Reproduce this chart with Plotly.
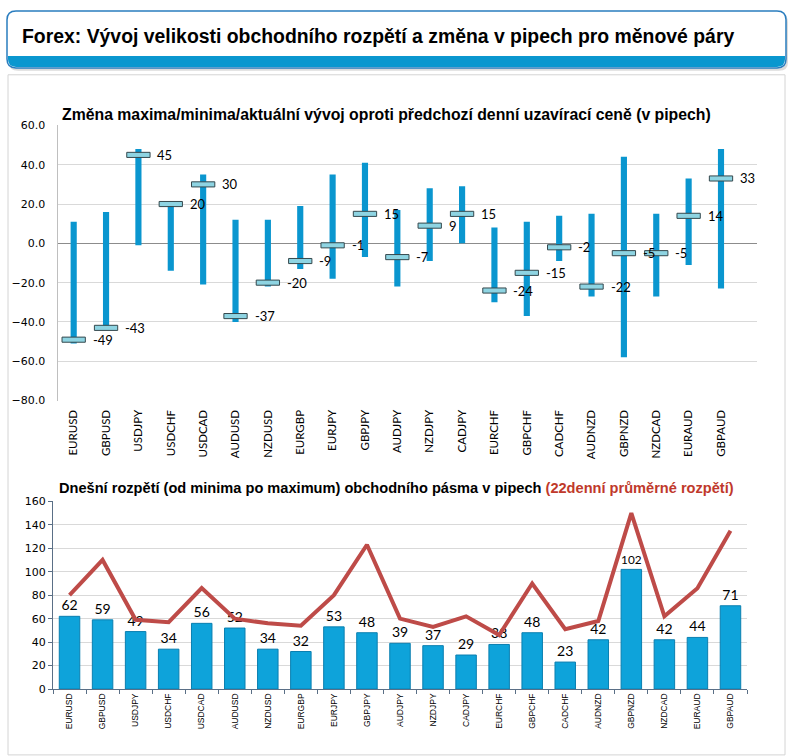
import plotly.graph_objects as go

pairs = ["EURUSD", "GBPUSD", "USDJPY", "USDCHF", "USDCAD", "AUDUSD", "NZDUSD",
         "EURGBP", "EURJPY", "GBPJPY", "AUDJPY", "NZDJPY", "CADJPY", "EURCHF",
         "GBPCHF", "CADCHF", "AUDNZD", "GBPNZD", "NZDCAD", "EURAUD", "GBPAUD"]
day_high = [11, 16, 48, 20, 35, 12, 12, 19, 35, 41, 17, 28, 29, 8, 11, 14, 15, 44, 15, 33, 48]
day_low = [-51, -43, -1, -14, -21, -40, -22, -13, -18, -7, -22, -9, 0, -30, -37, -9, -27, -58, -27, -11, -23]
day_close = [-49, -43, 45, 20, 30, -37, -20, -9, -1, 15, -7, 9, 15, -24, -15, -2, -22, -5, -5, 14, 33]
today_range = [62, 59, 49, 34, 56, 52, 34, 32, 53, 48, 39, 37, 29, 38, 48, 23, 42, 102, 42, 44, 71]
avg22_range = [80, 110, 59, 57, 86, 60, 56, 54, 80, 123, 60, 53, 62, 46, 90, 51, 58, 150, 62, 86, 135]

W, H = 793, 756


def px(x):
    return x / W


def py(y):
    return 1 - y / H


fig = go.Figure()

# Top chart: min-max ranges
fig.add_trace(go.Bar(
    x=pairs, y=[h - l for h, l in zip(day_high, day_low)], base=day_low,
    width=0.19, marker=dict(color="#0a96cf", line_width=0),
    xaxis="x", yaxis="y", hoverinfo="skip", showlegend=False))
# Top chart: current value markers
fig.add_trace(go.Bar(
    x=pairs, y=[2.6] * len(pairs), base=[c - 1.3 for c in day_close],
    width=0.72, marker=dict(color="#8ed4e2", line=dict(color="#35484d", width=1)),
    xaxis="x", yaxis="y", hoverinfo="skip", showlegend=False))

# Bottom chart: today range bars
fig.add_trace(go.Bar(
    x=pairs, y=today_range, width=0.62,
    marker=dict(color="#0ea3da", line=dict(color="#0a7fb0", width=1)),
    text=[str(v) for v in today_range], textposition="outside",
    textfont=dict(family="Lato", size=14, color="#000000"),
    cliponaxis=False, xaxis="x2", yaxis="y2", hoverinfo="skip", showlegend=False))
# Bottom chart: 22-day average
fig.add_trace(go.Scatter(
    x=pairs, y=avg22_range, mode="lines",
    line=dict(color="#be4b48", width=4),
    xaxis="x2", yaxis="y2", hoverinfo="skip", showlegend=False))

annotations = []
for p, c in zip(pairs, day_close):
    annotations.append(dict(
        x=p, y=c, xref="x", yref="y", xshift=17, xanchor="left", yanchor="middle",
        text=str(c), showarrow=False, font=dict(family="Lato", size=13, color="#000000")))

annotations.append(dict(
    x=px(20), y=py(31), xref="paper", yref="paper", xanchor="left", yanchor="middle",
    text="<b>Forex: Vývoj velikosti obchodního rozpětí a změna v pipech pro měnové páry</b>",
    showarrow=False, font=dict(family="Liberation Sans", size=19.4, color="#000000")))
annotations.append(dict(
    x=px(60), y=py(110), xref="paper", yref="paper", xanchor="left", yanchor="middle",
    text="<b>Změna maxima/minima/aktuální vývoj oproti předchozí denní uzavírací ceně (v pipech)</b>",
    showarrow=False, font=dict(family="Liberation Sans", size=15.8, color="#000000")))
annotations.append(dict(
    x=px(57), y=py(490), xref="paper", yref="paper", xanchor="left", yanchor="middle",
    text="<b>Dnešní rozpětí (od minima po maximum) obchodního pásma v pipech "
         "<span style='color:#c0392b'>(22denní průměrné rozpětí)</span></b>",
    showarrow=False, font=dict(family="Liberation Sans", size=14.6, color="#000000")))


def rounded(x0, y0, x1, y1, r, top=True, bottom=True):
    X0, X1 = px(x0), px(x1)
    Y0, Y1 = py(y0), py(y1)
    rx, ry = r / W, r / H
    path = ""
    if top:
        path += f"M {X0} {Y0 - ry} Q {X0} {Y0} {X0 + rx} {Y0} L {X1 - rx} {Y0} Q {X1} {Y0} {X1} {Y0 - ry} "
    else:
        path += f"M {X0} {Y0} L {X1} {Y0} "
    if bottom:
        path += f"L {X1} {Y1 + ry} Q {X1} {Y1} {X1 - rx} {Y1} L {X0 + rx} {Y1} Q {X0} {Y1} {X0} {Y1 + ry} Z"
    else:
        path += f"L {X1} {Y1} L {X0} {Y1} Z"
    return path


shapes = [
    # content panel
    dict(type="rect", xref="paper", yref="paper", x0=px(8), x1=px(785), y0=py(762), y1=py(70),
         line=dict(color="#d4d4d4", width=1), fillcolor="rgba(0,0,0,0)", layer="below"),
    # header shadow
    dict(type="path", xref="paper", yref="paper", path=rounded(9, 8, 788, 66, 9),
         line=dict(width=0), fillcolor="#dcdcdc", layer="below"),
    # header box
    dict(type="path", xref="paper", yref="paper", path=rounded(7, 5, 786, 63, 9),
         line=dict(color="#2a7dbf", width=1.5), fillcolor="#ffffff", layer="below"),
    # header band
    dict(type="path", xref="paper", yref="paper", path=rounded(8, 51, 785, 62, 8, top=False),
         line=dict(width=0), fillcolor="#0a97cf", layer="below"),
]

fig.update_layout(
    width=W, height=H, margin=dict(l=0, r=0, t=0, b=0),
    paper_bgcolor="#ffffff", plot_bgcolor="#ffffff",
    barmode="overlay", showlegend=False,
    font=dict(family="DejaVu Sans", color="#000000"),
    annotations=annotations, shapes=shapes,
    xaxis=dict(domain=[px(57.5), px(757)], anchor="y", tickangle=-90,
               tickfont=dict(family="Lato", size=11.5), showline=False,
               ticks="", showgrid=False, ticklabelstandoff=6),
    yaxis=dict(domain=[py(401.5), py(121.5)], anchor="x", range=[-80, 60], dtick=20,
               tickformat=".1f", gridcolor="#d9d9d9", zeroline=True,
               zerolinecolor="#8c8c8c", zerolinewidth=1, showline=True,
               linecolor="#bfbfbf", tickfont=dict(family="DejaVu Sans", size=11),
               ticklabelstandoff=9),
    xaxis2=dict(domain=[px(53), px(747)], anchor="y2", tickangle=-90,
                tickfont=dict(family="Liberation Sans", size=8.5), showline=True,
                linecolor="#5a6f86", ticks="outside", ticklen=4, tickcolor="#5a6f86",
                tickson="boundaries", showgrid=False),
    yaxis2=dict(domain=[py(695), py(504)], anchor="x2", range=[0, 160], dtick=20,
                gridcolor="#d9d9d9", showline=True, linecolor="#5a6f86",
                ticks="outside", ticklen=4, tickcolor="#5a6f86", zeroline=False,
                tickfont=dict(family="DejaVu Sans", size=11)),
)

fig.write_html("out.html", config={"displayModeBar": False},
               post_script="document.body.style.margin='0px';")
